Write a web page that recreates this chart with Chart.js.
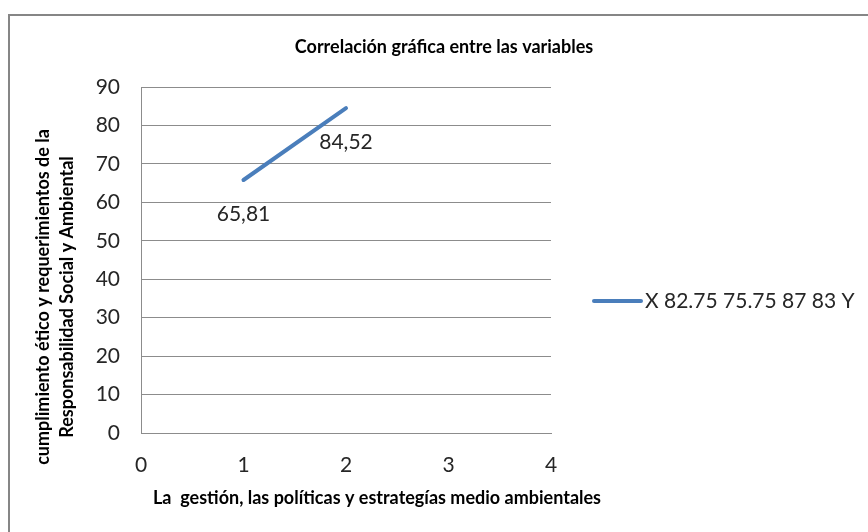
<!DOCTYPE html>
<html>
<head>
<meta charset="utf-8">
<title>Correlación gráfica entre las variables</title>
<script src="https://cdn.jsdelivr.net/npm/chart.js@4.4.1/dist/chart.umd.min.js"></script>
<style>
    html, body { margin: 0; padding: 0; background: #ffffff; }
    #wrap { position: relative; width: 868px; height: 532px; }
</style>
</head>
<body>
<div id="wrap"><canvas id="grafico" width="868" height="532"></canvas></div>
<script>
// Datos de la serie
const serieNombre = 'X 82.75 75.75 87 83 Y';
const valoresX = [1, 2];
const valoresY = [65.81, 84.52];

// Marcas de los ejes
const ticksX = [0, 1, 2, 3, 4];
const ticksY = [0, 10, 20, 30, 40, 50, 60, 70, 80, 90];

// Textos
const tituloGrafico = 'Correlación gráfica entre las variables';
const tituloEjeX = 'La  gestión, las políticas y estrategías medio ambientales';
const tituloEjeY = ['cumplimiento ético y requerimientos de la', 'Responsabilidad Social y Ambiental'];

const FUENTE = 'Lato, "Open Sans", sans-serif';
const AZUL = '#4a7ebb';
const GRIS = '#8c8c8c';
const TEXTO = '#262626';

const puntos = valoresX.map((x, i) => ({ x: x, y: valoresY[i] }));

// Marco del área del gráfico (solo arriba e izquierda)
const marco = {
    id: 'marco',
    beforeDraw(chart) {
        const ctx = chart.ctx;
        ctx.save();
        ctx.strokeStyle = '#868686';
        ctx.lineWidth = 2;
        ctx.beginPath();
        ctx.moveTo(9, chart.height);
        ctx.lineTo(9, 15);
        ctx.lineTo(chart.width, 15);
        ctx.stroke();
        ctx.restore();
    }
};

// Títulos, etiquetas de datos y leyenda
const textos = {
    id: 'textos',
    afterDatasetsDraw(chart) {
        const ctx = chart.ctx;
        const area = chart.chartArea;
        ctx.save();
        ctx.fillStyle = '#000';
        ctx.textAlign = 'center';
        ctx.textBaseline = 'middle';

        ctx.font = 'bold 18px ' + FUENTE;
        ctx.fillText(tituloGrafico, 444, 47);
        ctx.fillText(tituloEjeX, 377, 498);

        // título del eje Y en dos líneas, girado
        ctx.save();
        ctx.translate(43, 297);
        ctx.rotate(-Math.PI / 2);
        ctx.fillText(tituloEjeY[0], 0, 0);
        ctx.fillText(tituloEjeY[1], 0, 24);
        ctx.restore();

        // etiquetas de valor debajo de cada punto
        ctx.font = '21px ' + FUENTE;
        ctx.fillStyle = TEXTO;
        const meta = chart.getDatasetMeta(0);
        meta.data.forEach((p, i) => {
            const txt = valoresY[i].toFixed(2).replace('.', ',');
            ctx.fillText(txt, p.x, p.y + 34);
        });

        // leyenda a la derecha
        const ds = chart.data.datasets[0];
        const ly = (area.top + area.bottom) / 2 + 41;
        ctx.strokeStyle = ds.borderColor;
        ctx.lineWidth = 4;
        ctx.lineCap = 'round';
        ctx.beginPath();
        ctx.moveTo(area.right + 43, ly);
        ctx.lineTo(area.right + 90, ly);
        ctx.stroke();
        ctx.textAlign = 'left';
        ctx.fillText(ds.label, area.right + 94, ly);
        ctx.restore();
    }
};

new Chart(document.getElementById('grafico'), {
    type: 'scatter',
    data: {
        datasets: [{
            label: serieNombre,
            data: puntos,
            showLine: true,
            borderColor: AZUL,
            backgroundColor: AZUL,
            borderWidth: 4,
            borderCapStyle: 'round',
            pointRadius: 0,
            pointHoverRadius: 0
        }]
    },
    options: {
        responsive: false,
        animation: false,
        layout: { padding: { left: 0, top: 87, right: 317, bottom: 49 } },
        plugins: {
            legend: { display: false },
            title: { display: false },
            tooltip: { enabled: false }
        },
        scales: {
            x: {
                type: 'linear',
                min: 0,
                max: 4,
                afterBuildTicks: (s) => { s.ticks = ticksX.map(v => ({ value: v })); },
                afterFit: (s) => { s.height = 50; },
                grid: { display: false, drawTicks: false },
                border: { display: true, color: GRIS, width: 1 },
                ticks: { padding: 20, color: TEXTO, maxRotation: 0, autoSkip: false, font: { family: FUENTE, size: 21 } }
            },
            y: {
                min: 0,
                max: 90,
                afterBuildTicks: (s) => { s.ticks = ticksY.map(v => ({ value: v })); },
                afterFit: (s) => { s.width = 141; },
                grid: { color: GRIS, lineWidth: 1, drawTicks: false },
                border: { display: true, color: GRIS, width: 1 },
                ticks: { padding: 21, color: TEXTO, font: { family: FUENTE, size: 21 } }
            }
        }
    },
    plugins: [marco, textos]
});
</script>
</body>
</html>
